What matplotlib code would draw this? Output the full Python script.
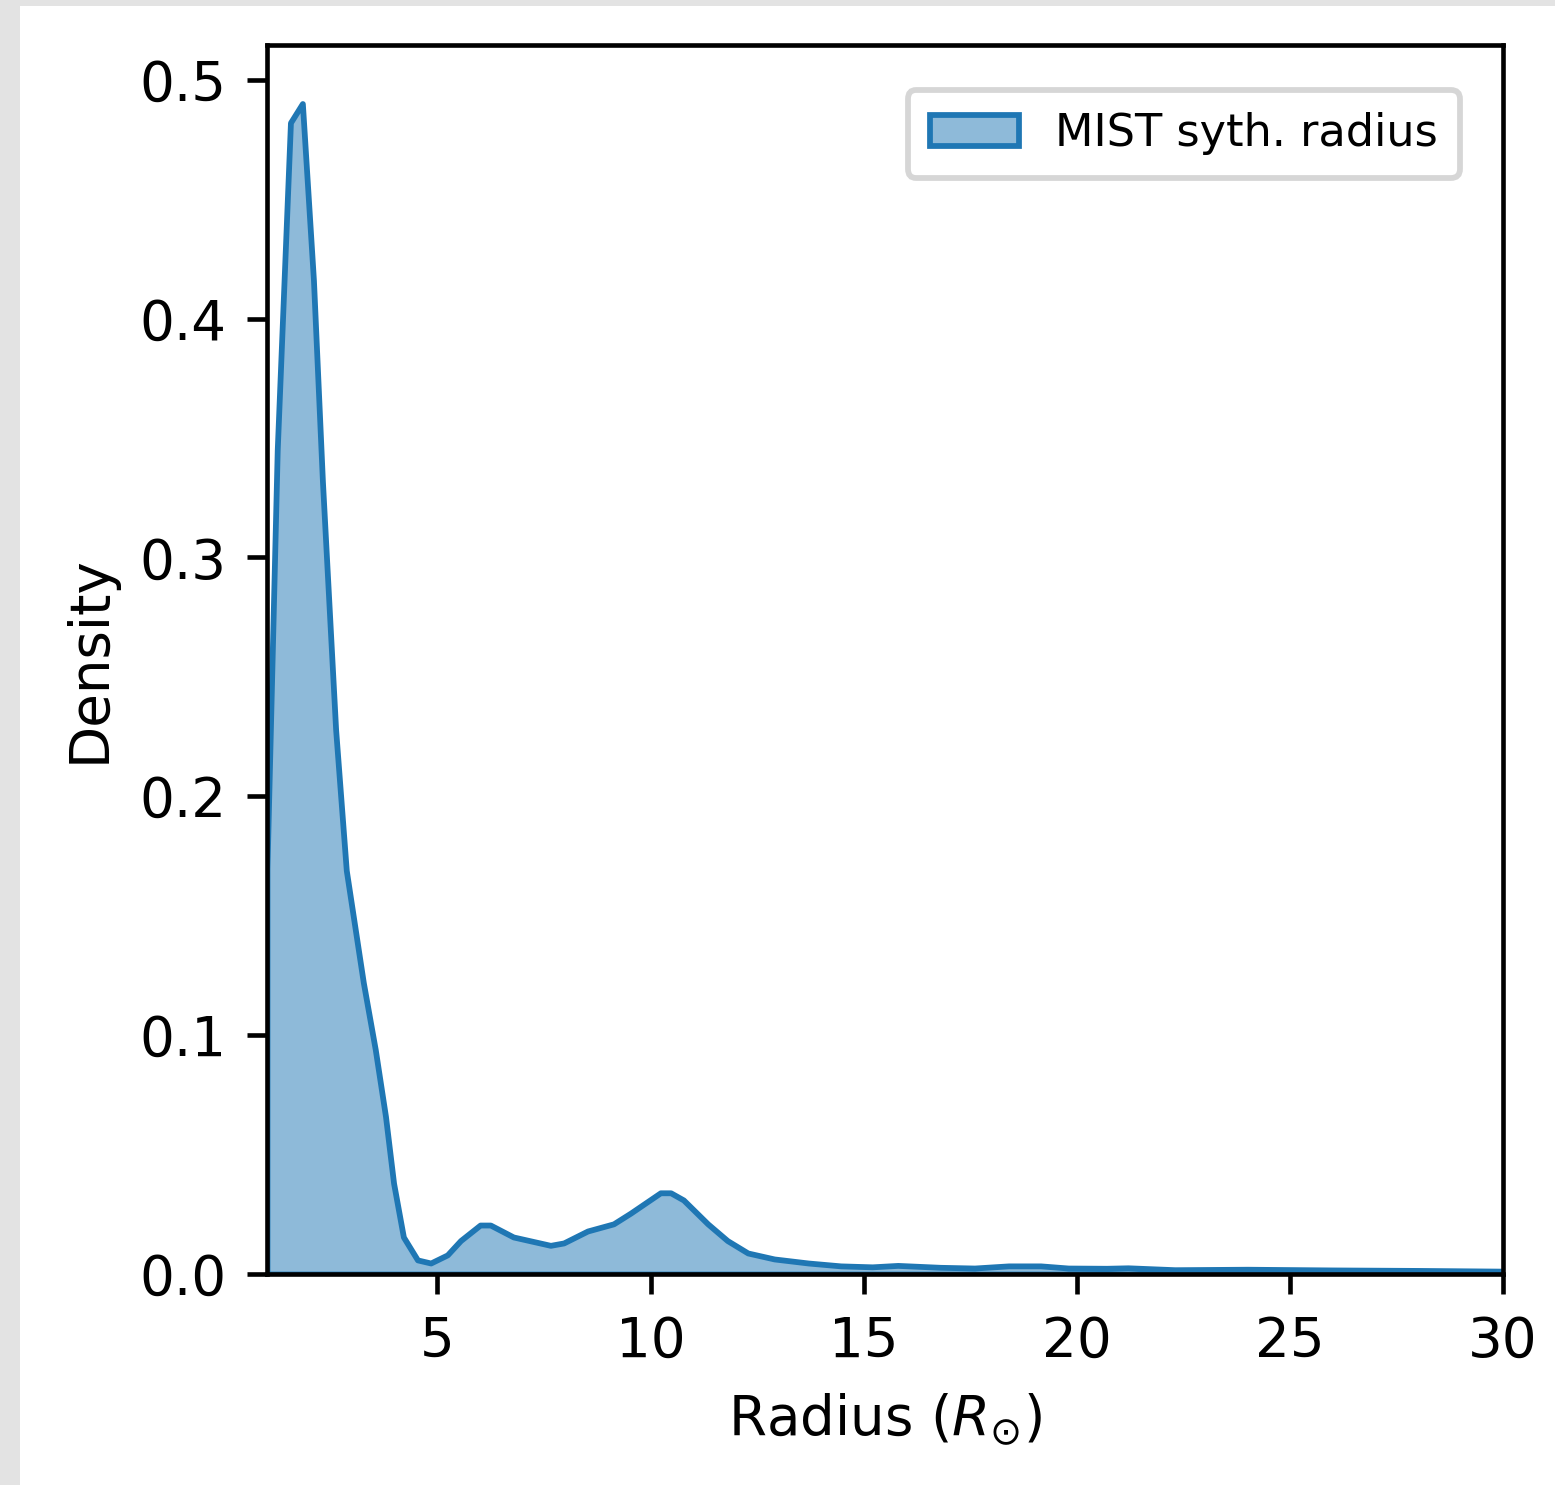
import matplotlib.pyplot as plt
from matplotlib.patches import Rectangle

# KDE curve
radius = [1.0, 1.24, 1.55, 1.83, 2.09, 2.30, 2.61, 2.86, 3.26, 3.54, 3.78, 3.97,
          4.20, 4.53, 4.84, 5.23, 5.54, 6.0, 6.24, 6.78, 7.65, 7.96, 8.52, 9.13,
          9.53, 10.23, 10.47, 10.77, 11.34, 11.8, 12.28, 12.9, 13.7, 14.46, 15.2,
          15.8, 16.8, 17.6, 18.4, 19.15, 19.8, 20.7, 21.2, 22.3, 24.0, 26.0,
          28.0, 30.0, 31.0]
density = [0.170, 0.345, 0.482, 0.490, 0.416, 0.332, 0.228, 0.169, 0.122, 0.094,
           0.066, 0.038, 0.0155, 0.0059, 0.0046, 0.008, 0.014, 0.0205, 0.0205,
           0.0155, 0.012, 0.013, 0.018, 0.021, 0.0255, 0.034, 0.034, 0.031,
           0.021, 0.014, 0.0088, 0.0063, 0.0046, 0.0034, 0.003, 0.0036, 0.0028,
           0.0025, 0.0034, 0.0034, 0.0025, 0.0024, 0.0026, 0.0018, 0.0020,
           0.0017, 0.0015, 0.0012, 0.0011]

W, H, DPI = 1555, 1485, 415
plt.rcParams['font.size'] = 9.5

fig = plt.figure(figsize=(W / DPI, H / DPI), dpi=DPI, facecolor='#e3e3e3')
fig.patches.append(Rectangle((20 / W, 0), 1 - 20 / W, 1 - 6 / H,
                             transform=fig.transFigure, facecolor='white',
                             edgecolor='none', zorder=-1))

ax = fig.add_axes([267 / W, 1 - 1274 / H, (1503 - 267) / W, (1274 - 45) / H])
ax.fill_between(radius, 0, density, facecolor=(0.1216, 0.4667, 0.7059, 0.5),
                edgecolor='C0', linewidth=1.0, label='MIST syth. radius')
ax.set_xlim(1.0, 30)
ax.set_ylim(0, 0.5145)
ax.set_xticks([5, 10, 15, 20, 25, 30])
ax.set_xlabel(r'Radius ($R_{\odot}$)')
ax.set_ylabel('Density')
ax.legend(loc='upper right', fontsize=7.75, borderaxespad=0, borderpad=0.5,
          bbox_to_anchor=(1460 / W, 1 - 90 / H), bbox_transform=fig.transFigure)

fig.savefig('out.png', dpi=DPI, facecolor=fig.get_facecolor())
